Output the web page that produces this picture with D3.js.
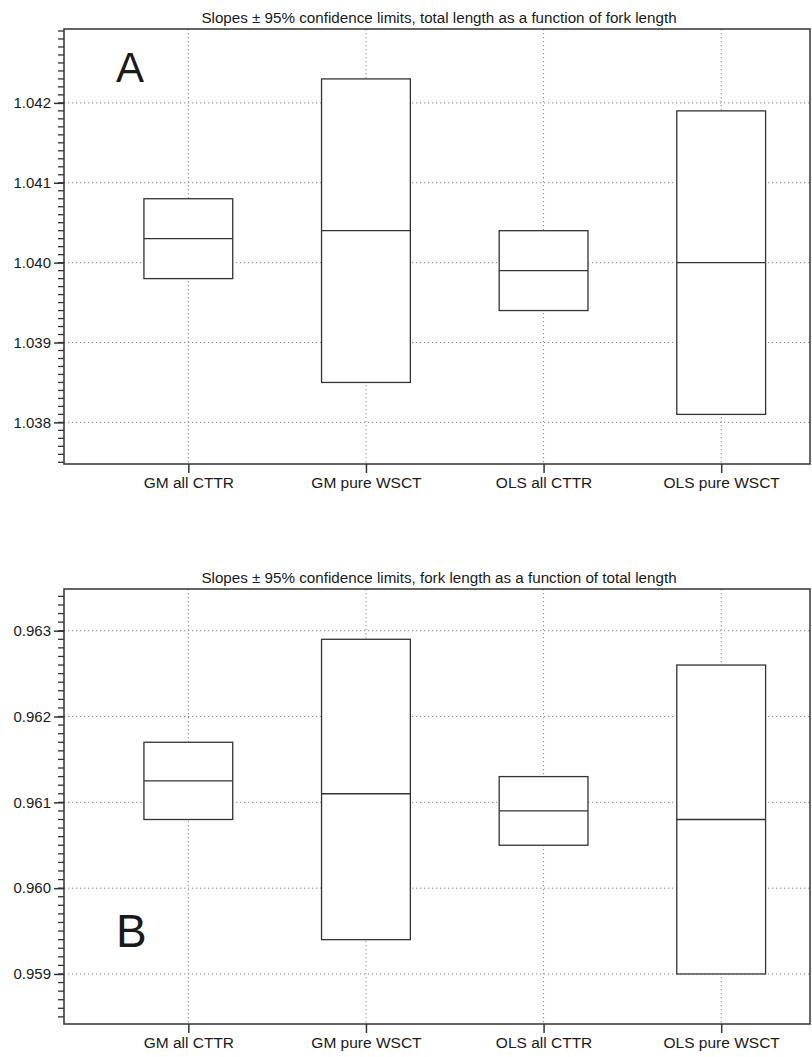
<!DOCTYPE html>
<html>
<head>
<meta charset="utf-8">
<script src="https://cdn.jsdelivr.net/npm/d3@7"></script>
<style>
  html, body { margin: 0; padding: 0; background: #fff; }
  svg { display: block; }
  text { font-family: "Liberation Sans", Arial, Helvetica, sans-serif; fill: #1a1a1a; }
</style>
</head>
<body>
<svg id="chart" width="812" height="1057"></svg>
<script>
// Regression methods / samples compared in both panels
const categories = ["GM all CTTR", "GM pure WSCT", "OLS all CTTR", "OLS pure WSCT"];

// Panel A: total length as a function of fork length
const slopeA = [1.0403, 1.0404, 1.0399, 1.0400];
const lowerA = [1.0398, 1.0385, 1.0394, 1.0381];
const upperA = [1.0408, 1.0423, 1.0404, 1.0419];
const yTicksA = [1.038, 1.039, 1.040, 1.041, 1.042];

// Panel B: fork length as a function of total length
const slopeB = [0.96125, 0.9611, 0.9609, 0.9608];
const lowerB = [0.9608, 0.9594, 0.9605, 0.9590];
const upperB = [0.9617, 0.9629, 0.9613, 0.9626];
const yTicksB = [0.959, 0.960, 0.961, 0.962, 0.963];

const svg = d3.select("#chart");

function drawPanel(opts) {
  const { top, bottom, left, right, yDomain, yTicks, slope, lower, upper, title, letter, letterY, letterSize } = opts;
  const g = svg.append("g");

  const x = d3.scaleLinear().domain([0.3, 4.5]).range([left, right]);
  const y = d3.scaleLinear().domain(yDomain).range([bottom, top]);
  const positions = categories.map((_, i) => i + 1);

  // dotted grid
  const grid = g.append("g").attr("stroke", "#8a8a8a").attr("stroke-width", 1)
    .attr("stroke-dasharray", "1.3,2.7");
  grid.selectAll("line.h").data(yTicks).join("line")
    .attr("x1", left).attr("x2", right)
    .attr("y1", d => y(d)).attr("y2", d => y(d));
  grid.selectAll("line.v").data(positions).join("line")
    .attr("x1", d => x(d)).attr("x2", d => x(d))
    .attr("y1", top).attr("y2", bottom);

  // confidence boxes with slope line
  const hw = 0.25;
  const boxes = g.append("g");
  boxes.selectAll("rect").data(positions).join("rect")
    .attr("x", d => x(d - hw))
    .attr("width", d => x(d + hw) - x(d - hw))
    .attr("y", (d, i) => y(upper[i]))
    .attr("height", (d, i) => y(lower[i]) - y(upper[i]))
    .attr("fill", "#fff").attr("stroke", "#333").attr("stroke-width", 1.3);
  boxes.selectAll("line").data(positions).join("line")
    .attr("x1", d => x(d - hw)).attr("x2", d => x(d + hw))
    .attr("y1", (d, i) => y(slope[i])).attr("y2", (d, i) => y(slope[i]))
    .attr("stroke", "#333").attr("stroke-width", 1.3);

  // frame
  g.append("rect").attr("x", left).attr("y", top)
    .attr("width", right - left).attr("height", bottom - top)
    .attr("fill", "none").attr("stroke", "#333").attr("stroke-width", 1.5);

  // left axis: major ticks with labels, minor ticks every 0.0001
  const yAxis = d3.axisLeft(y).tickValues(yTicks).tickFormat(d3.format(".3f"))
    .tickSizeInner(10).tickSizeOuter(0).tickPadding(3);
  const ya = g.append("g").attr("transform", `translate(${left},0)`).call(yAxis);
  ya.select(".domain").remove();
  ya.selectAll(".tick line").attr("stroke", "#333").attr("stroke-width", 1.5);
  ya.selectAll(".tick text").style("font-size", "15px").style("fill", "#1a1a1a")
    .attr("font-family", null);

  const minorStart = Math.ceil(yDomain[0] * 10000 - 1e-6);
  const minorEnd = Math.floor(yDomain[1] * 10000 + 1e-6);
  const minor = d3.range(minorStart, minorEnd + 1).map(v => v / 10000);
  g.append("g").selectAll("line").data(minor).join("line")
    .attr("x1", left - 6).attr("x2", left)
    .attr("y1", d => y(d)).attr("y2", d => y(d))
    .attr("stroke", "#333").attr("stroke-width", 1.3);

  // bottom axis with category labels
  const xAxis = d3.axisBottom(x).tickValues(positions)
    .tickFormat((d, i) => categories[i]).tickSizeInner(9).tickSizeOuter(0).tickPadding(4);
  const xa = g.append("g").attr("transform", `translate(0,${bottom})`).call(xAxis);
  xa.select(".domain").remove();
  xa.selectAll(".tick line").attr("stroke", "#333").attr("stroke-width", 1.5);
  xa.selectAll(".tick text").style("font-size", "15.5px").style("fill", "#1a1a1a")
    .attr("font-family", null);

  // title
  g.append("text").attr("x", (left + right) / 2 + 2).attr("y", top - 6)
    .attr("text-anchor", "middle").style("font-size", "15.2px").text(title);

  // panel letter
  g.append("text").attr("x", 116).attr("y", letterY)
    .style("font-size", letterSize + "px").text(letter);
}

drawPanel({
  top: 29, bottom: 464, left: 64, right: 810,
  yDomain: [1.037479, 1.042925], yTicks: yTicksA,
  slope: slopeA, lower: lowerA, upper: upperA,
  title: "Slopes \u00b1 95% confidence limits, total length as a function of fork length",
  letter: "A", letterY: 82, letterSize: 42
});

drawPanel({
  top: 589, bottom: 1024, left: 64, right: 810,
  yDomain: [0.958417, 0.963486], yTicks: yTicksB,
  slope: slopeB, lower: lowerB, upper: upperB,
  title: "Slopes \u00b1 95% confidence limits, fork length as a function of total length",
  letter: "B", letterY: 947, letterSize: 46
});
</script>
</body>
</html>
